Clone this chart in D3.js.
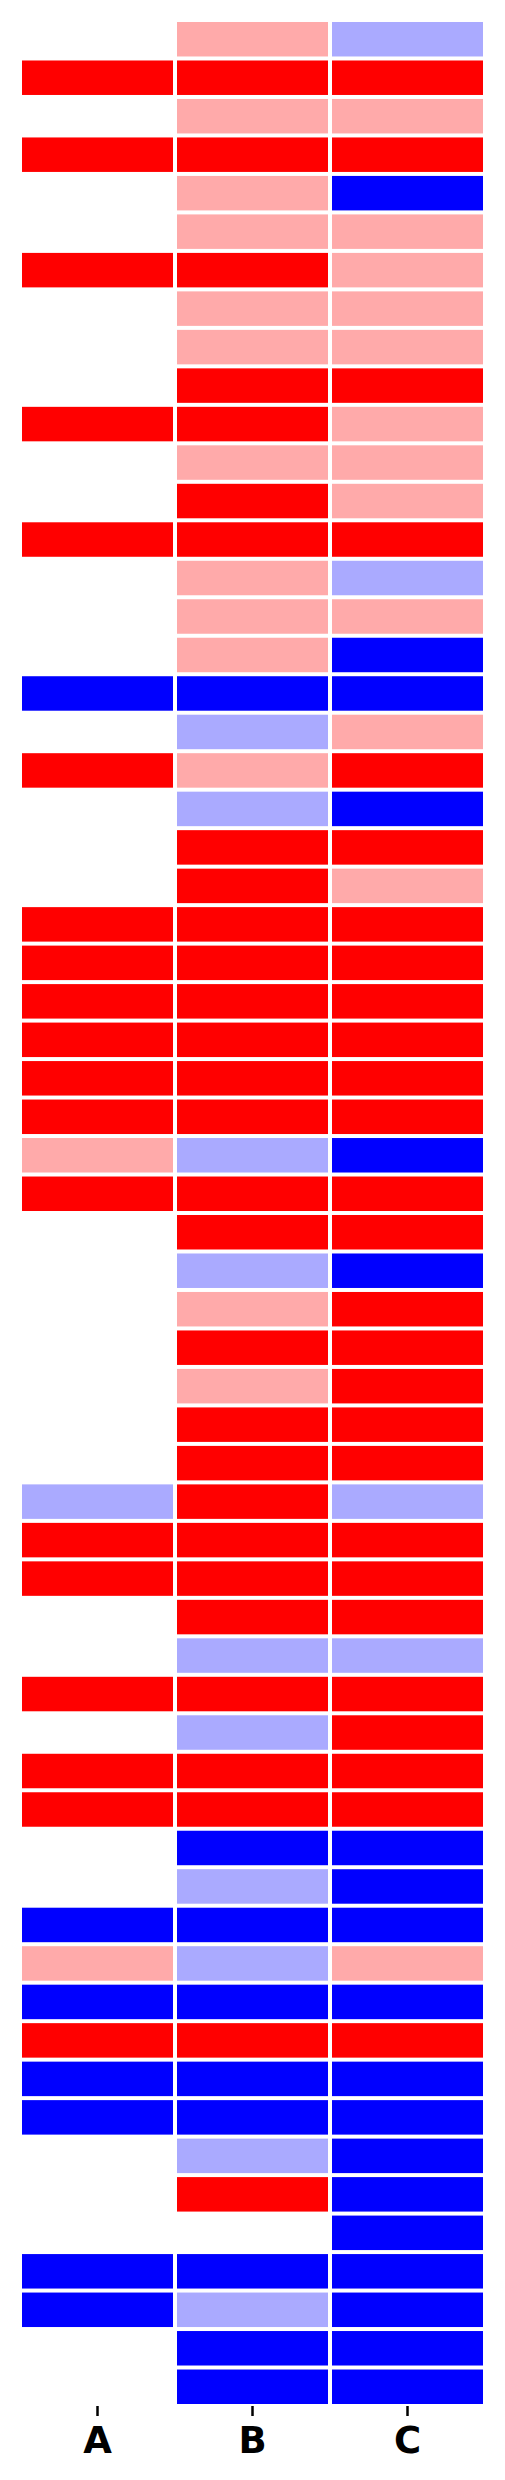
<!DOCTYPE html>
<html>
<head>
<meta charset="utf-8">
<script src="https://cdn.jsdelivr.net/npm/d3@7"></script>
<style>
  html, body { margin: 0; padding: 0; background: #fff; }
  svg { display: block; }
</style>
</head>
<body>
<div id="chart"></div>
<script>
// Columns (tick labels)
const categories = ["A", "B", "C"];

// Cell values per column, top row to bottom row (null = empty cell)
// 2 = strong positive, 1 = weak positive, -1 = weak negative, -2 = strong negative
const seriesA = [
  null, 2, null, 2, null, null, 2, null, null, null,
  2, null, null, 2, null, null, null, -2, null, 2,
  null, null, null, 2, 2, 2, 2, 2, 2, 1,
  2, null, null, null, null, null, null, null, -1, 2,
  2, null, null, 2, null, 2, 2, null, null, -2,
  1, -2, 2, -2, -2, null, null, null, -2, -2,
  null, null
];
const seriesB = [
  1, 2, 1, 2, 1, 1, 2, 1, 1, 2,
  2, 1, 2, 2, 1, 1, 1, -2, -1, 1,
  -1, 2, 2, 2, 2, 2, 2, 2, 2, -1,
  2, 2, -1, 1, 2, 1, 2, 2, 2, 2,
  2, 2, -1, 2, -1, 2, 2, -2, -1, -2,
  -1, -2, 2, -2, -2, -1, 2, null, -2, -1,
  -2, -2
];
const seriesC = [
  -1, 2, 1, 2, -2, 1, 1, 1, 1, 2,
  1, 1, 1, 2, -1, 1, -2, -2, 1, 2,
  -2, 2, 1, 2, 2, 2, 2, 2, 2, -2,
  2, 2, -2, 2, 2, 2, 2, 2, -1, 2,
  2, 2, -1, 2, 2, 2, 2, -2, -2, -2,
  1, -2, 2, -2, -2, -2, -2, -2, -2, -2,
  -2, -2
];
const valueLevels = [-2, -1, 1, 2];
const levelColors = ["#0000ff", "#aaaaff", "#ffaaaa", "#ff0000"];

const series = [seriesA, seriesB, seriesC];
const nRows = seriesA.length;
const rows = d3.range(nRows);

const W = 505, H = 2480;
const margin = { left: 20, right: 20, top: 20, bottom: 74 };

const svg = d3.select("#chart").append("svg")
  .attr("width", W).attr("height", H);

const x = d3.scaleBand().domain(categories).range([margin.left, W - margin.right]).padding(0);
const y = d3.scaleBand().domain(rows).range([margin.top, H - margin.bottom]).padding(0);
const color = d3.scaleOrdinal().domain(valueLevels).range(levelColors);

const cells = [];
categories.forEach((c, ci) => {
  series[ci].forEach((v, ri) => {
    if (v !== null) cells.push({ col: c, row: ri, value: v });
  });
});

const gap = 2;
svg.append("g").selectAll("rect").data(cells).join("rect")
  .attr("x", d => x(d.col) + gap)
  .attr("y", d => y(d.row) + gap)
  .attr("width", x.bandwidth() - 2 * gap)
  .attr("height", y.bandwidth() - 2 * gap)
  .attr("fill", d => color(d.value));

const axis = svg.append("g")
  .attr("transform", `translate(0,${H - margin.bottom})`)
  .call(d3.axisBottom(x).tickSize(10).tickPadding(11));
axis.select(".domain").remove();
axis.selectAll(".tick line").attr("stroke", "#000").attr("stroke-width", 2.5);
axis.selectAll(".tick text")
  .attr("fill", "#000")
  .style("font-family", "'DejaVu Sans', sans-serif")
  .style("font-weight", "bold")
  .style("font-size", "37px");
</script>
</body>
</html>
